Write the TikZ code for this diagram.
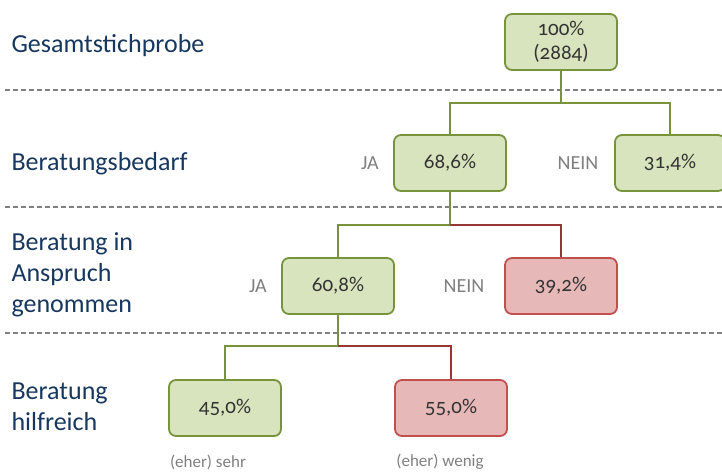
\documentclass[tikz,border=0pt]{standalone}
\usepackage{fontspec}
\setmainfont{Carlito}[Numbers=OldStyle]
\definecolor{boxgreen}{HTML}{D7E4BD}
\definecolor{linegreen}{HTML}{77933C}
\definecolor{boxred}{HTML}{E6B9B8}
\definecolor{edgered}{HTML}{C0504D}
\definecolor{linered}{HTML}{953735}
\definecolor{labelblue}{HTML}{17375E}
\definecolor{textgray}{HTML}{7F7F7F}
\begin{document}
\begin{tikzpicture}[x=1pt,y=-1pt,
    yesbox/.style={draw=linegreen,fill=boxgreen,line width=1.8pt,rounded corners=7pt,
      minimum width=112pt,minimum height=56pt,font=\fontsize{21}{24}\selectfont,align=center,text=black!80},
    nobox/.style={yesbox,draw=edgered,fill=boxred},
    gline/.style={draw=linegreen,line width=1.8pt},
    rline/.style={draw=linered,line width=1.8pt},
    level/.style={anchor=west,text=labelblue,font=\fontsize{26}{31}\selectfont,align=left},
    answer/.style={text=textgray,font=\fontsize{20}{22}\selectfont},
    rating/.style={text=textgray,font=\fontsize{17}{19}\selectfont},
    sep/.style={draw=gray,line width=1.2pt,dash pattern=on 5pt off 3pt}]
  \useasboundingbox (0,0) rectangle (722,473);
  \clip (0,0) rectangle (722,473);

  % level separators
  \draw[sep] (5,90) -- (722,90);
  \draw[sep] (5,207) -- (722,207);
  \draw[sep] (5,333) -- (722,333);

  % level labels
  \node[level] (lvla) at (8,46) {Gesamtstichprobe};
  \node[level] (lvlb) at (8,164) {Beratungsbedarf};
  \node[level] (lvlc) at (8,275) {Beratung in\\Anspruch\\genommen};
  \node[level] (lvld) at (8,407) {Beratung\\hilfreich};

  % boxes
  \node[yesbox] (total) at (561,42) {100\%\\(2884)};
  \node[yesbox] (bedja) at (450,163) {68,6\%};
  \node[yesbox,minimum width=110pt] (bednein) at (670,163) {31,4\%};
  \node[yesbox] (anspja) at (338,286) {60,8\%};
  \node[nobox] (anspnein) at (561,286) {39,2\%};
  \node[yesbox] (hilfsehr) at (225,408) {45,0\%};
  \node[nobox] (hilfwenig) at (451,408) {55,0\%};

  % answers
  \node[answer] (ja1) at (370,163) {JA};
  \node[answer] (nein1) at (578,163) {NEIN};
  \node[answer] (ja2) at (258,286) {JA};
  \node[answer] (nein2) at (464,286) {NEIN};
  \node[rating] (sehr) at (208,462) {(eher) sehr};
  \node[rating] (wenig) at (440,462) {(eher) wenig};

  % branch points
  \coordinate (fork1) at (561,103);
  \coordinate (fork2) at (450,225);
  \coordinate (fork3) at (338,346);

  % connectors
  \draw[gline] (total.south) -- (fork1) -| (bedja.north);
  \draw[gline] (fork1) -| (bednein.north);
  \draw[gline] (bedja.south) -- (fork2) -| (anspja.north);
  \draw[rline] (fork2) -| (anspnein.north);
  \draw[gline] (anspja.south) -- (fork3) -| (hilfsehr.north);
  \draw[rline] (fork3) -| (hilfwenig.north);
\end{tikzpicture}
\end{document}
